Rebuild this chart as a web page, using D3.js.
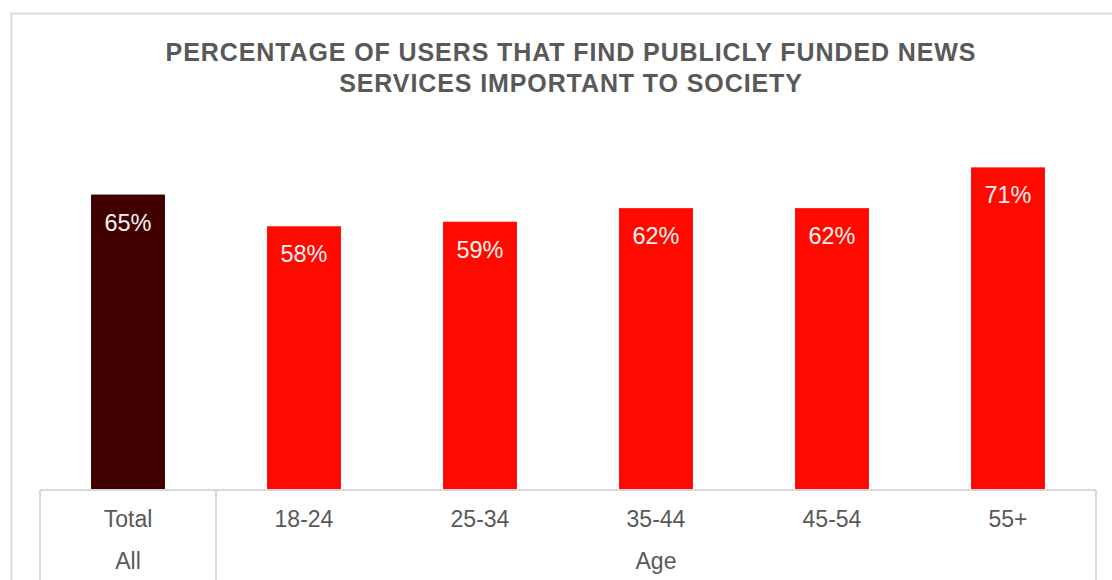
<!DOCTYPE html>
<html>
<head>
<meta charset="utf-8">
<script src="https://cdn.jsdelivr.net/npm/d3@7"></script>
<style>
  html, body { margin: 0; padding: 0; background: #fff; }
  svg { display: block; font-family: "Liberation Sans", Arial, sans-serif; }
</style>
</head>
<body>
<svg id="chart" width="1112" height="580"></svg>
<script>
// Share of users who rate publicly funded news as important, overall and by age band
const categories = ["Total", "18-24", "25-34", "35-44", "45-54", "55+"];
const values = [65, 58, 59, 62, 62, 71];
const groups = [
  { name: "All", from: "Total", to: "Total" },
  { name: "Age", from: "18-24", to: "55+" }
];
const titleLines = [
  "PERCENTAGE OF USERS THAT FIND PUBLICLY FUNDED NEWS",
  "SERVICES IMPORTANT TO SOCIETY"
];

const svg = d3.select("#chart");
const textGrey = "#595959";
const lineGrey = "#d9d9d9";

// Outer chart frame
svg.append("rect")
  .attr("x", 11.5).attr("y", 13.5)
  .attr("width", 1200).attr("height", 700)
  .attr("fill", "none").attr("stroke", lineGrey).attr("stroke-width", 2);

// Title
svg.append("g").selectAll("text")
  .data(titleLines)
  .join("text")
  .attr("x", 571)
  .attr("y", (d, i) => 60.5 + i * 31)
  .attr("text-anchor", "middle")
  .attr("font-size", 25)
  .attr("letter-spacing", 0.9)
  .attr("font-weight", "bold")
  .attr("fill", textGrey)
  .text(d => d);

// Scales
const x = d3.scaleBand()
  .domain(categories)
  .range([40, 1096])
  .paddingInner(0.58)
  .paddingOuter(0.29);

const y = d3.scaleLinear()
  .domain([0, 80])
  .range([489, 489 - 80 * 4.53]);

// Bars
svg.append("g").selectAll("rect")
  .data(values)
  .join("rect")
  .attr("x", (d, i) => x(categories[i]))
  .attr("y", d => y(d))
  .attr("width", x.bandwidth())
  .attr("height", d => y(0) - y(d))
  .attr("fill", (d, i) => i === 0 ? "#400000" : "#ff0a00");

// Value labels inside the bar tops
svg.append("g").selectAll("text")
  .data(values)
  .join("text")
  .attr("x", (d, i) => x(categories[i]) + x.bandwidth() / 2)
  .attr("y", d => y(d) + 36)
  .attr("text-anchor", "middle")
  .attr("font-size", 23.5)
  .attr("fill", "#fdf2f0")
  .text(d => d + "%");

// Category table beneath the bars
const step = x.step();
const slotLeft = c => 40 + categories.indexOf(c) * step;
const table = svg.append("g")
  .attr("stroke", lineGrey).attr("stroke-width", 2).attr("fill", "none");

table.append("line")
  .attr("x1", 40).attr("x2", 1096)
  .attr("y1", 490).attr("y2", 490);

const dividers = [40].concat(groups.map(g => slotLeft(g.to) + step));
table.selectAll(".div")
  .data(dividers)
  .join("line")
  .attr("x1", d => d).attr("x2", d => d)
  .attr("y1", 490).attr("y2", 600);

// Category tick labels
svg.append("g").selectAll("text")
  .data(categories)
  .join("text")
  .attr("x", d => x(d) + x.bandwidth() / 2)
  .attr("y", 527)
  .attr("text-anchor", "middle")
  .attr("font-size", 23)
  .attr("fill", textGrey)
  .text(d => d);

// Group labels
svg.append("g").selectAll("text")
  .data(groups)
  .join("text")
  .attr("x", g => (slotLeft(g.from) + slotLeft(g.to) + step) / 2)
  .attr("y", 569)
  .attr("text-anchor", "middle")
  .attr("font-size", 23)
  .attr("fill", textGrey)
  .text(g => g.name);
</script>
</body>
</html>
